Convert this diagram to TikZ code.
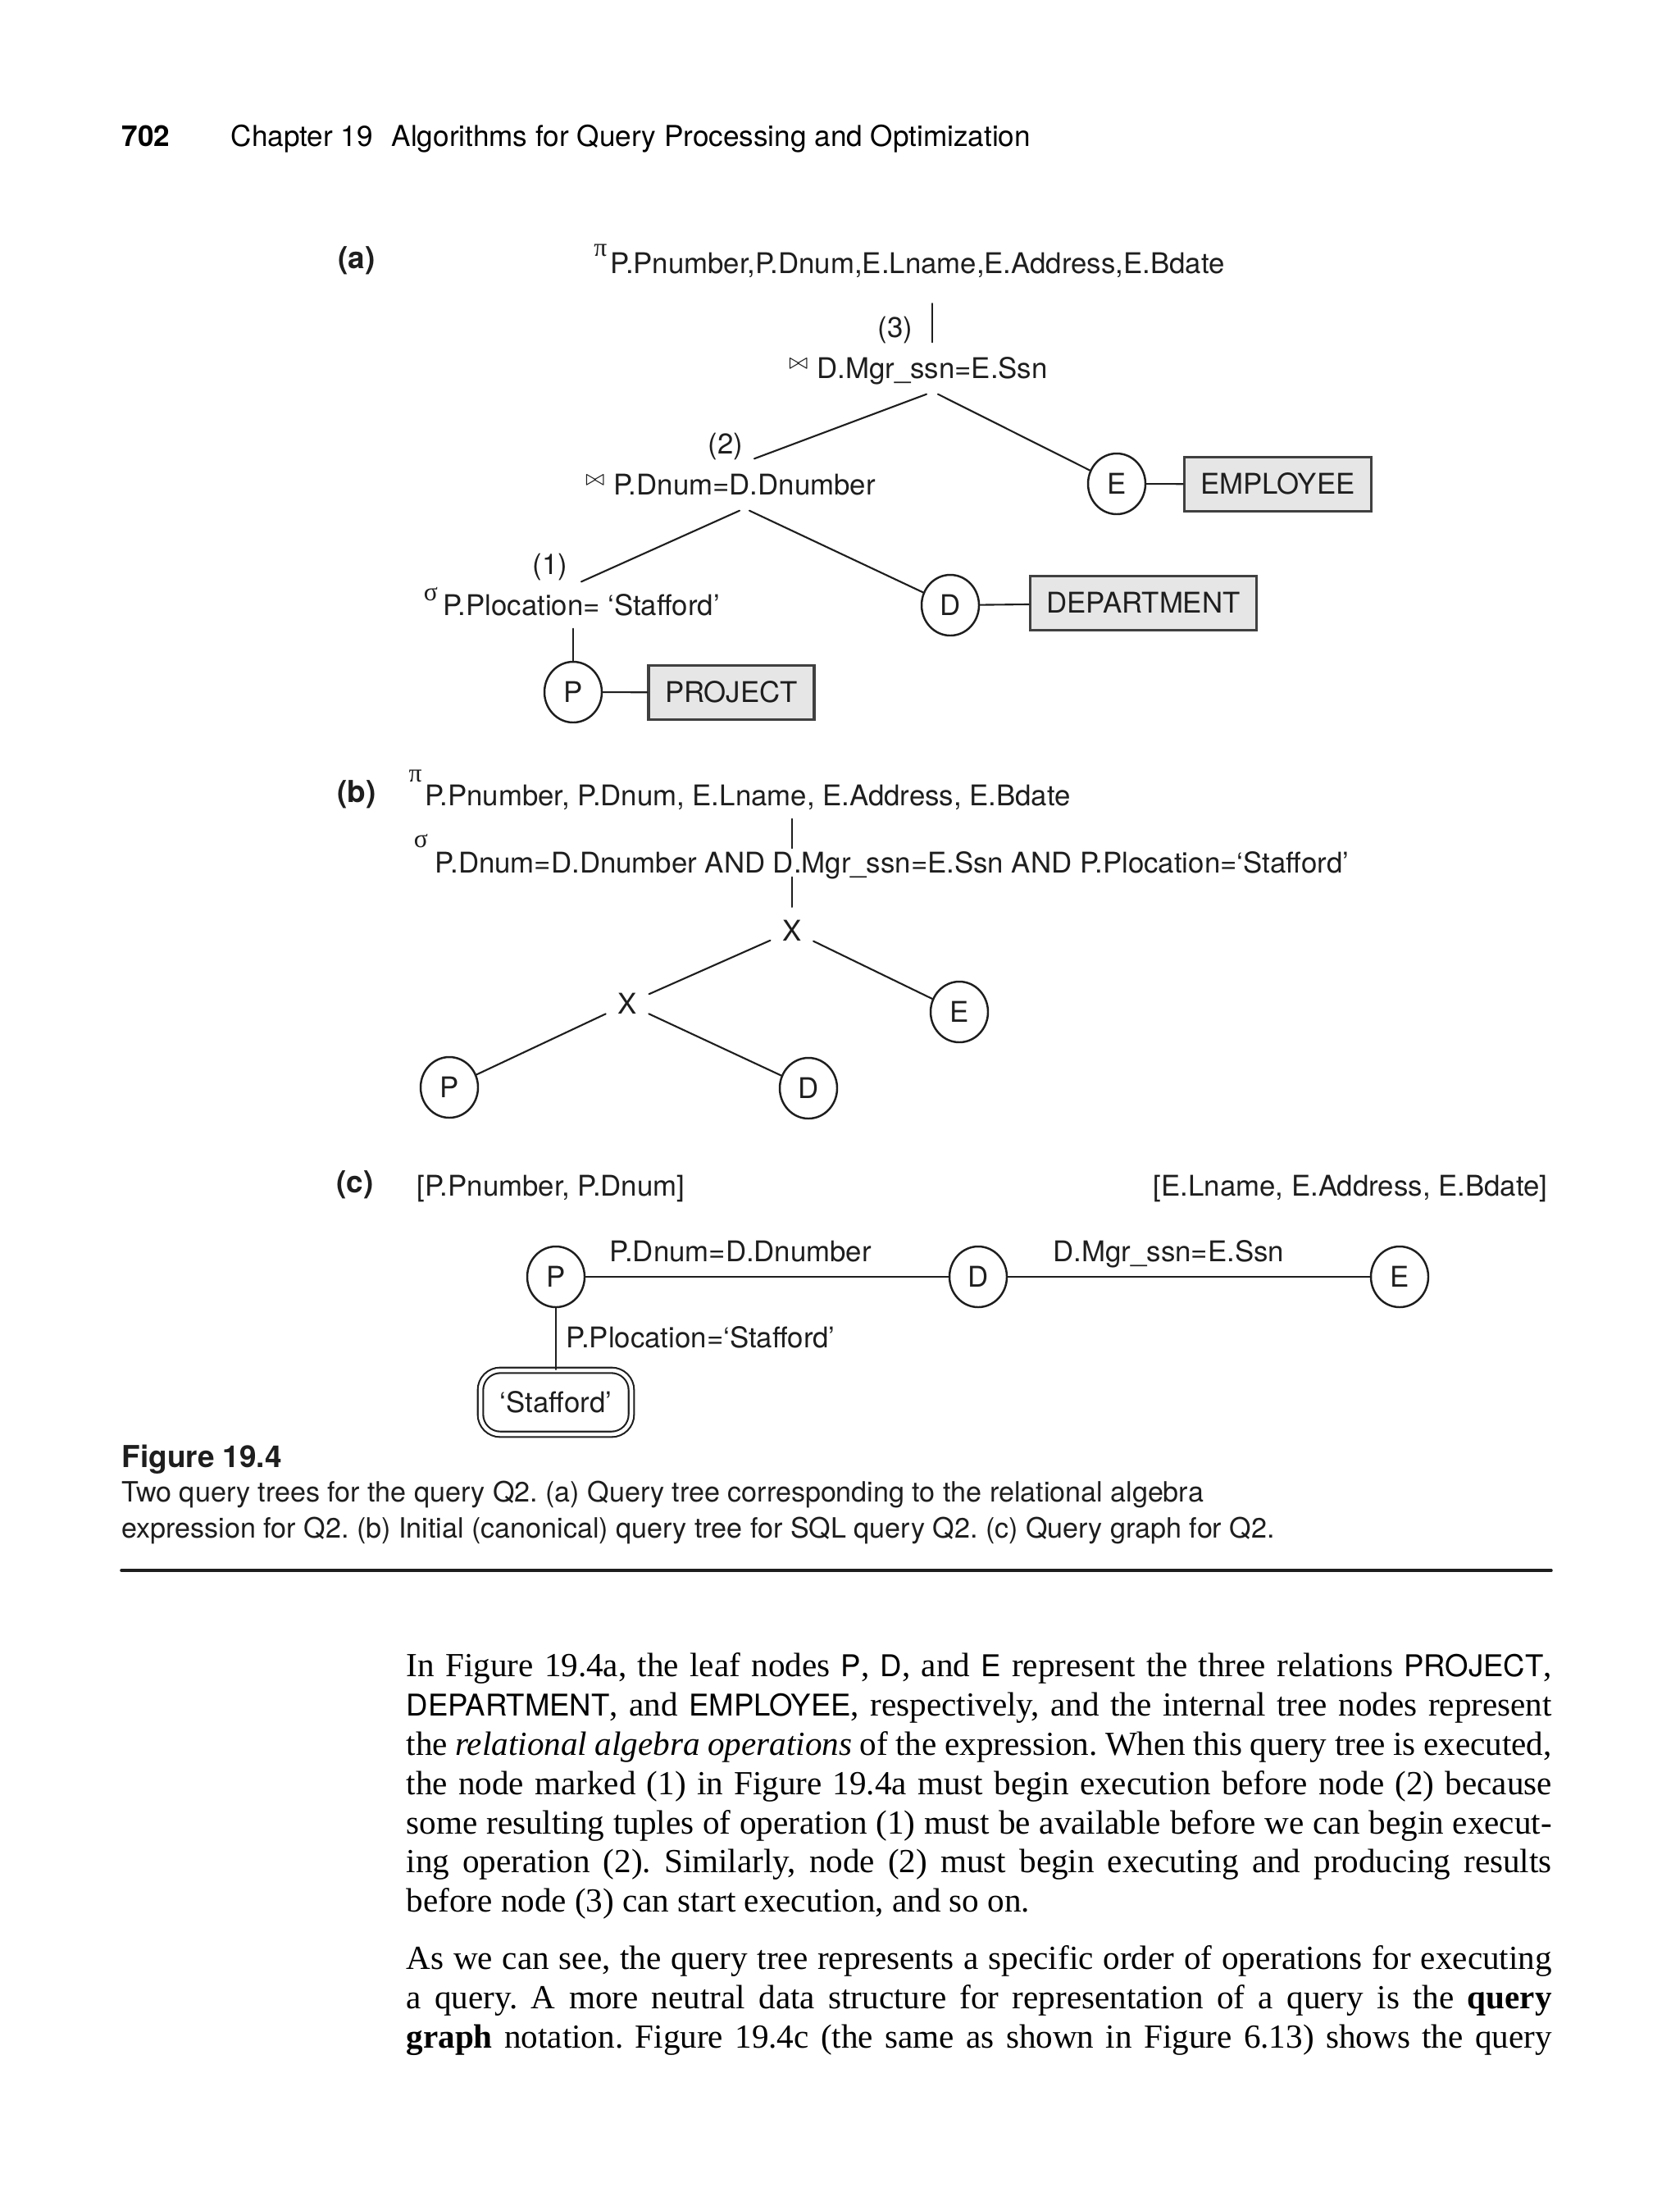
\documentclass[tikz,border=0pt]{standalone}
\usepackage{fontspec}
\setmainfont{Liberation Serif}
\setsansfont{TeX Gyre Heros}
\usetikzlibrary{shapes.geometric,positioning,calc}
\definecolor{relfill}{RGB}{230, 230, 230}
\definecolor{relline}{RGB}{64, 64, 64}
\definecolor{ink}{RGB}{30, 30, 30}

\newcommand{\figfont}{\sffamily\fontsize{9.9}{11.8}\selectfont}
\newcommand{\gr}[1]{{\rmfamily\fontsize{9}{9}\selectfont #1}}
\newcommand{\opmark}[3]{\llap{\raisebox{#2}[0pt][0pt]{#1}\hspace{#3}}}
\newlength{\bodywidth}
\setlength{\bodywidth}{139.7mm}
\newcommand{\fullline}[1]{\makebox[\bodywidth][s]{#1}}
\newcommand{\sfw}[1]{{\sffamily\fontsize{10.4}{12}\selectfont #1}}

\tikzset{
    optext/.style={font=\figfont, text=ink, text height=7.1pt, text depth=0pt, inner xsep=0pt, inner ysep=1.85mm},
    plain/.style={font=\figfont, text=ink, text height=7.1pt, text depth=0pt, inner sep=0pt},
    leaf/.style={ellipse, draw=ink, line width=0.7pt, font=\figfont, text=ink, text height=7.1pt, text depth=0pt, inner sep=0pt, minimum width=7mm, minimum height=7.4mm},
    cross/.style={circle, font=\figfont, text=ink, text height=7.1pt, text depth=0pt, inner sep=0.8mm},
    relbox/.style={draw=relline, line width=0.9pt, fill=relfill, font=\figfont, text=ink, text height=7.1pt, text depth=0pt, inner xsep=2.0mm, minimum height=6.6mm},
    constbox/.style={draw=ink, double, double distance=0.45mm, line width=0.6pt, rounded corners=2.4mm, minimum width=18.4mm, minimum height=7.8mm, font=\figfont, text=ink, text height=7.1pt, text depth=0pt},
    treeline/.style={draw=ink, line width=0.6pt},
    graphline/.style={draw=ink, line width=0.8pt},
    partlbl/.style={font=\sffamily\bfseries\fontsize{10.5}{12}\selectfont, text=ink, inner sep=0pt},
    capline/.style={anchor=base west, inner sep=0pt, font=\sffamily\fontsize{9.7}{12}\selectfont, text=ink},
    bodyline/.style={anchor=base west, inner sep=0pt, font=\rmfamily\fontsize{11.7}{13.6}\selectfont}
}

\begin{document}
\frenchspacing
\begin{tikzpicture}[line cap=round]
    \fill[white] (0,0) rectangle (204.8mm,-268.4mm);
    \useasboundingbox (0,0) rectangle (204.8mm,-268.4mm);

    % running head
    \node[anchor=base west, inner sep=0pt, font=\sffamily\bfseries\fontsize{10}{12}\selectfont] (pageno) at (14.8mm,-17.8mm) {702};
    \node[anchor=base west, inner sep=0pt, font=\sffamily\fontsize{10}{12}\selectfont] (runhead) at (28.1mm,-17.8mm) {Chapter 19\hspace{6.5pt}Algorithms for Query Processing and Optimization};

    % (a) query tree for the algebra expression
    \node[partlbl] (parta) at (43.5mm,-31.8mm) {(a)};
    \node[optext, inner ysep=3.6mm] (proja) at (111.9mm,-32.1mm) {\opmark{\gr{π}}{5.9pt}{1.2pt}P.Pnumber,P.Dnum,E.Lname,E.Address,E.Bdate};
    \node[optext] (join3) at (113.7mm,-44.9mm) {\opmark{$\scriptstyle\bowtie$}{3.5pt}{3pt}D.Mgr\_ssn=E.Ssn};
    \node[optext] (join2) at (90.8mm,-59.1mm) {\opmark{$\scriptstyle\bowtie$}{3.5pt}{3pt}P.Dnum=D.Dnumber};
    \node[optext, inner ysep=1.55mm] (sela) at (70.9mm,-73.8mm) {\opmark{\gr{σ}}{5.1pt}{1.8pt}P.Plocation= ‘Stafford’};
    \node[plain] (ord3) at (109.2mm,-39.9mm) {(3)};
    \node[plain] (ord2) at (88.5mm,-54.1mm) {(2)};
    \node[plain] (ord1) at (67.1mm,-68.8mm) {(1)};

    \node[leaf] (Pa) at (69.9mm,-84.4mm) {P};
    \node[leaf] (Da) at (115.9mm,-73.8mm) {D};
    \node[leaf] (Ea) at (136.2mm,-59.0mm) {E};
    \node[relbox] (projrel) at (89.2mm,-84.45mm) {PROJECT};
    \node[relbox] (deptrel) at (139.45mm,-73.55mm) {DEPARTMENT};
    \node[relbox] (emprel) at (155.85mm,-59.05mm) {EMPLOYEE};

    \draw[treeline] (join3.north) -- (join3.north |- proja.south);
    \draw[treeline] ([xshift=-0.7mm]join3.south) -- ([xshift=1.2mm]join2.north);
    \draw[treeline] ([xshift=0.7mm]join3.south) -- (Ea);
    \draw[treeline] ([xshift=-0.6mm]join2.south) -- (sela.north);
    \draw[treeline] ([xshift=0.6mm]join2.south) -- (Da);
    \draw[treeline] (sela.south -| Pa) -- (Pa);
    \draw[treeline] (Pa) -- (projrel);
    \draw[treeline] (Da) -- (deptrel);
    \draw[treeline] (Ea) -- (emprel);

    % (b) canonical tree
    \node[partlbl] (partb) at (43.5mm,-96.9mm) {(b)};
    \node[optext, inner ysep=1.55mm] (projb) at (91.2mm,-97.0mm) {\opmark{\gr{π}}{8.2pt}{1pt}P.Pnumber, P.Dnum, E.Lname, E.Address, E.Bdate};
    \node[optext, inner ysep=0.45mm] (selb) at (108.8mm,-105.2mm) {\opmark{\gr{σ}}{8.7pt}{2.6pt}P.Dnum=D.Dnumber AND D.Mgr\_ssn=E.Ssn AND P.Plocation=‘Stafford’};
    \node[cross] (xtop) at (96.6mm,-113.5mm) {X};
    \node[cross] (xsub) at (76.5mm,-122.4mm) {X};
    \node[leaf] (Pb) at (54.8mm,-132.6mm) {P};
    \node[leaf] (Db) at (98.6mm,-132.7mm) {D};
    \node[leaf] (Eb) at (117.0mm,-123.4mm) {E};

    \draw[treeline] (projb.south -| xtop) -- (selb.north -| xtop);
    \draw[treeline] (selb.south -| xtop) -- (xtop);
    \draw[treeline] (xtop) -- (xsub);
    \draw[treeline] (xtop) -- (Eb);
    \draw[treeline] (xsub) -- (Pb);
    \draw[treeline] (xsub) -- (Db);

    % (c) query graph
    \node[partlbl] (partc) at (43.3mm,-144.5mm) {(c)};
    \node[plain, anchor=west] (attrp) at (50.8mm,-144.6mm) {[P.Pnumber, P.Dnum]};
    \node[plain, anchor=east] (attre) at (188.8mm,-144.6mm) {[E.Lname, E.Address, E.Bdate]};
    \node[leaf] (Pc) at (67.8mm,-155.7mm) {P};
    \node[leaf] (Dc) at (119.3mm,-155.7mm) {D};
    \node[leaf] (Ec) at (170.7mm,-155.7mm) {E};
    \node[plain, anchor=west] (condpd) at (74.3mm,-152.6mm) {P.Dnum=D.Dnumber};
    \node[plain, anchor=west] (conddm) at (128.4mm,-152.6mm) {D.Mgr\_ssn=E.Ssn};
    \node[plain, anchor=west] (condloc) at (69.0mm,-163.1mm) {P.Plocation=‘Stafford’};
    \node[constbox] (stafford) at (67.8mm,-171.0mm) {‘Stafford’};

    \draw[graphline] (Pc) -- (Dc);
    \draw[graphline] (Dc) -- (Ec);
    \draw[treeline] (Pc) -- (stafford);

    % caption
    \node[anchor=base west, inner sep=0pt, font=\sffamily\bfseries\fontsize{10.5}{12}\selectfont, text=ink] (figno) at (14.8mm,-178.9mm) {Figure 19.4};
    \node[capline] (cap1) at (14.8mm,-183.1mm) {Two query trees for the query Q2. (a) Query tree corresponding to the relational algebra};
    \node[capline] (cap2) at (14.8mm,-187.5mm) {expression for Q2. (b) Initial (canonical) query tree for SQL query Q2. (c) Query graph for Q2.};
    \draw[ink, line width=1pt] (14.8mm,-191.5mm) -- (189.2mm,-191.5mm);

    % body text
    \node[bodyline] (par1a) at (49.5mm,-204.4mm) {\fullline{In Figure 19.4a, the leaf nodes \sfw{P}, \sfw{D}, and \sfw{E} represent the three relations \sfw{PROJECT},}};
    \node[bodyline] (par1b) at (49.5mm,-209.2mm) {\fullline{\sfw{DEPARTMENT}, and \sfw{EMPLOYEE}, respectively, and the internal tree nodes represent}};
    \node[bodyline] (par1c) at (49.5mm,-214.0mm) {\fullline{the \textit{relational algebra operations} of the expression. When this query tree is executed,}};
    \node[bodyline] (par1d) at (49.5mm,-218.8mm) {\fullline{the node marked (1) in Figure 19.4a must begin execution before node (2) because}};
    \node[bodyline] (par1e) at (49.5mm,-223.6mm) {\fullline{some resulting tuples of operation (1) must be available before we can begin execut-}};
    \node[bodyline] (par1f) at (49.5mm,-228.3mm) {\fullline{ing operation (2). Similarly, node (2) must begin executing and producing results}};
    \node[bodyline] (par1g) at (49.5mm,-233.1mm) {before node (3) can start execution, and so on.};
    \node[bodyline] (par2a) at (49.5mm,-240.1mm) {\fullline{As we can see, the query tree represents a specific order of operations for executing}};
    \node[bodyline] (par2b) at (49.5mm,-244.9mm) {\fullline{a query. A more neutral data structure for representation of a query is the \textbf{query}}};
    \node[bodyline] (par2c) at (49.5mm,-249.7mm) {\fullline{\textbf{graph} notation. Figure 19.4c (the same as shown in Figure 6.13) shows the query}};
\end{tikzpicture}
\end{document}
